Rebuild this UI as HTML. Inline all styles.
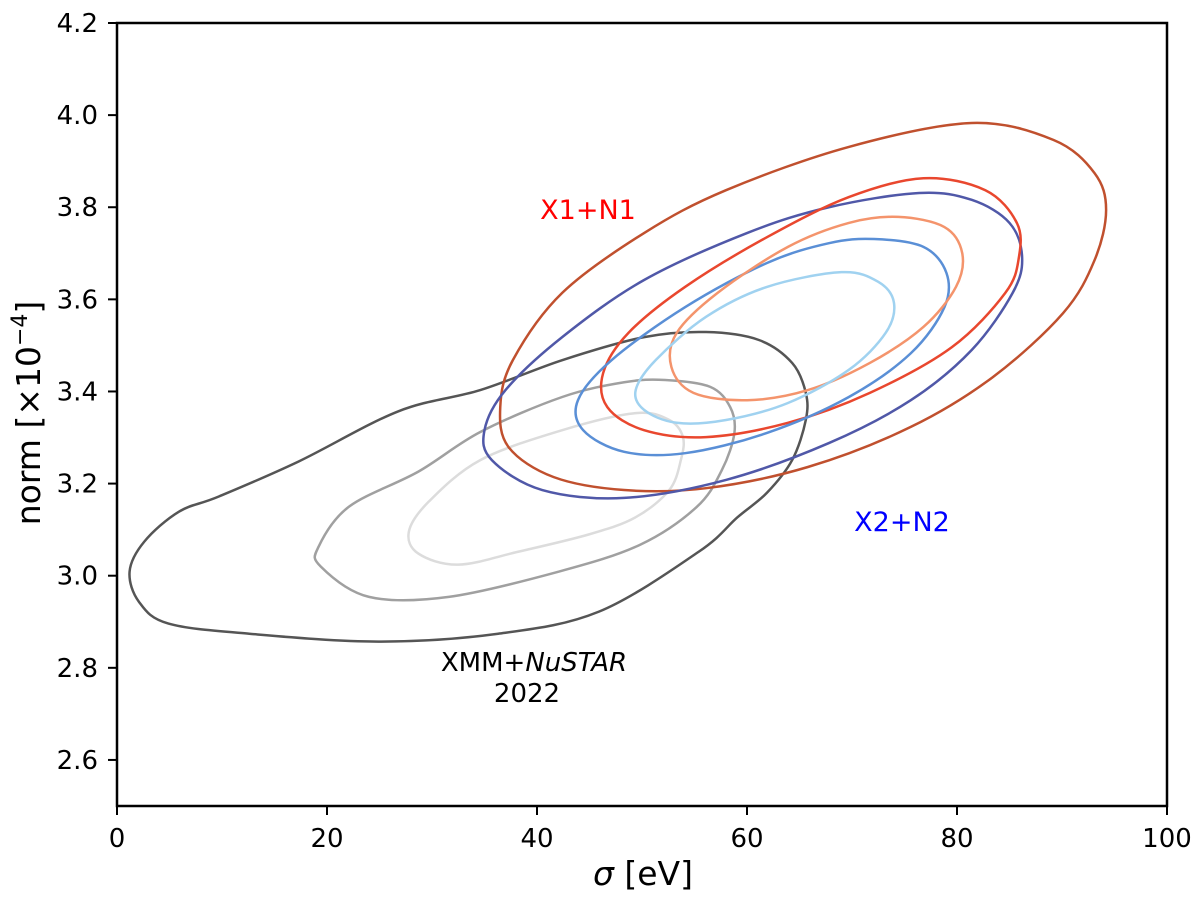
<!DOCTYPE html>
<html><head><meta charset="utf-8"><style>
body{margin:0;background:#fff}
svg text{font-family:"DejaVu Sans","Liberation Sans",sans-serif}
</style></head><body>
<svg id="chart" width="1200" height="893" viewBox="0 0 1200 893" xmlns="http://www.w3.org/2000/svg">
<g id="contours"></g>
<g id="axes"></g>
<text x="588" y="219" fill="#ff0000" font-size="27" text-anchor="middle">X1+N1</text>
<text x="902" y="531" fill="#0000ff" font-size="27" text-anchor="middle">X2+N2</text>
<text x="534" y="671" fill="#000" font-size="26" text-anchor="middle">XMM+<tspan font-style="italic">NuSTAR</tspan></text>
<text x="527" y="702" fill="#000" font-size="26" text-anchor="middle">2022</text>
<text x="643" y="885" font-size="33" text-anchor="middle"><tspan font-style="italic">σ</tspan> [eV]</text>
<text transform="translate(40,413) rotate(-90)" font-size="33" text-anchor="middle">norm [×10<tspan dy="-13" font-size="22">−4</tspan><tspan dy="13">]</tspan></text>
</svg>
<script>
const xTicks=[0,20,40,60,80,100];
const yTicks=[2.6,2.8,3.0,3.2,3.4,3.6,3.8,4.0,4.2];
const grayOuterX=[56.1,61.1,64.3,65.6,65.6,64.3,61.9,59.1,55.4,45.9,36.3,24.9,12.6,4.9,2.1,1.2,2.6,5.9,9.7,17.3,26.8,34.6,42.4,50.2];
const grayOuterY=[3.529,3.512,3.462,3.397,3.338,3.251,3.180,3.127,3.052,2.922,2.874,2.857,2.874,2.896,2.943,3.009,3.074,3.139,3.172,3.248,3.357,3.403,3.468,3.518];
const grayMidX=[52.2,56.5,58.4,58.8,57.6,55.2,49.8,42.1,31.6,24.0,19.4,19.2,22.1,28.7,34.6,42.4,48.3];
const grayMidY=[3.425,3.410,3.366,3.310,3.229,3.149,3.067,3.009,2.954,2.954,3.020,3.063,3.150,3.226,3.312,3.388,3.420];
const grayInnerX=[49.4,52.6,53.9,53.7,52.6,49.4,45.0,38.2,32.5,28.7,27.8,29.7,34.6,42.4];
const grayInnerY=[3.353,3.338,3.301,3.251,3.186,3.127,3.090,3.052,3.024,3.048,3.096,3.161,3.251,3.316];
const x1OuterX=[81.4,89.2,93.1,94.2,93.1,90.1,83.4,75.6,65.8,56.1,48.3,41.6,37.3,36.5,37.7,42.4,50.2,58.0,69.7];
const x1OuterY=[3.983,3.946,3.874,3.794,3.685,3.570,3.431,3.323,3.236,3.190,3.186,3.214,3.279,3.366,3.468,3.614,3.744,3.837,3.931];
const x2OuterX=[76.4,81.4,85.0,86.2,85.3,81.4,75.6,67.8,58.0,48.3,40.5,35.7,35.0,37.0,42.4,50.2,60.0,67.8];
const x2OuterY=[3.831,3.816,3.766,3.692,3.614,3.490,3.381,3.288,3.208,3.169,3.186,3.251,3.316,3.403,3.518,3.642,3.744,3.800];
const x1MidX=[76.8,82.7,85.7,85.9,84.6,79.5,71.7,63.9,56.1,50.2,46.7,46.3,48.7,54.1,61.9,69.7];
const x1MidY=[3.863,3.837,3.766,3.692,3.614,3.496,3.397,3.332,3.301,3.316,3.366,3.440,3.527,3.627,3.735,3.822];
const x1InnerX=[74.4,78.8,80.5,79.9,76.8,71.7,65.8,60.0,54.9,52.8,53.3,57.2,63.9,69.7];
const x1InnerY=[3.779,3.757,3.700,3.627,3.540,3.462,3.403,3.381,3.397,3.453,3.527,3.614,3.714,3.766];
const x2MidX=[72.1,76.8,79.0,78.8,75.6,69.7,61.9,54.1,48.3,44.4,43.9,47.1,54.1,61.9,67.8];
const x2MidY=[3.731,3.714,3.657,3.583,3.483,3.388,3.310,3.266,3.269,3.316,3.381,3.468,3.583,3.679,3.722];
const x2InnerX=[69.0,72.5,74.0,73.2,69.7,63.9,58.0,53.3,50.2,49.4,51.3,56.1,61.9];
const x2InnerY=[3.659,3.638,3.592,3.527,3.447,3.375,3.338,3.332,3.360,3.403,3.468,3.562,3.627];

const L=117,R=1167,T=23,B=806,X0=0,X1=100,Y0=2.5,Y1=4.2;
const sx=v=>L+(v-X0)/(X1-X0)*(R-L);
const sy=v=>B-(v-Y0)/(Y1-Y0)*(B-T);
const NS="http://www.w3.org/2000/svg";
function mk(tag,attrs,parent){const e=document.createElementNS(NS,tag);for(const k in attrs)e.setAttribute(k,attrs[k]);parent.appendChild(e);return e;}
function closedPath(xs,ys){
  const p=xs.map((x,i)=>[sx(x),sy(ys[i])]);const n=p.length;
  let d=`M${p[0][0]},${p[0][1]}`;
  for(let i=0;i<n;i++){
    const p0=p[(i-1+n)%n],p1=p[i],p2=p[(i+1)%n],p3=p[(i+2)%n];
    const c1=[p1[0]+(p2[0]-p0[0])/6,p1[1]+(p2[1]-p0[1])/6];
    const c2=[p2[0]-(p3[0]-p1[0])/6,p2[1]-(p3[1]-p1[1])/6];
    d+=`C${c1[0]},${c1[1]} ${c2[0]},${c2[1]} ${p2[0]},${p2[1]}`;
  }
  return d+"Z";
}
const cg=document.getElementById('contours');
const series=[
 ['gray-outer-contour',grayOuterX,grayOuterY,'#555555'],
 ['gray-mid-contour',grayMidX,grayMidY,'#a0a0a0'],
 ['gray-inner-contour',grayInnerX,grayInnerY,'#dcdcdc'],
 ['x1n1-outer-contour',x1OuterX,x1OuterY,'#c0502e'],
 ['x2n2-outer-contour',x2OuterX,x2OuterY,'#5058a8'],
 ['x1n1-mid-contour',x1MidX,x1MidY,'#e9472e'],
 ['x2n2-mid-contour',x2MidX,x2MidY,'#5a8fd6'],
 ['x1n1-inner-contour',x1InnerX,x1InnerY,'#f4946c'],
 ['x2n2-inner-contour',x2InnerX,x2InnerY,'#a0d2f0']];
for(const s of series){
  const e=mk('path',{d:closedPath(s[1],s[2]),fill:'none',stroke:s[3],'stroke-width':2.5},cg);
  
  
}
const ag=document.getElementById('axes');
const fr=mk('rect',{x:L,y:T,width:R-L,height:B-T,fill:'none',stroke:'#000','stroke-width':2.5},ag);


for(const t of xTicks){
  const x=sx(t);
  const tk=mk('line',{x1:x,x2:x,y1:B,y2:B+9,stroke:'#000','stroke-width':2},ag);
  
  
  const tx=mk('text',{x:x,y:B+41,'font-size':26,'text-anchor':'middle'},ag);tx.textContent=t;
  
  
}
for(const t of yTicks){
  const y=sy(t);
  const tk=mk('line',{x1:L-9,x2:L,y1:y,y2:y,stroke:'#000','stroke-width':2},ag);
  
  
  const tx=mk('text',{x:L-19,y:y+9,'font-size':26,'text-anchor':'end'},ag);tx.textContent=t.toFixed(1);
  
  
}
</script>
</body></html>
